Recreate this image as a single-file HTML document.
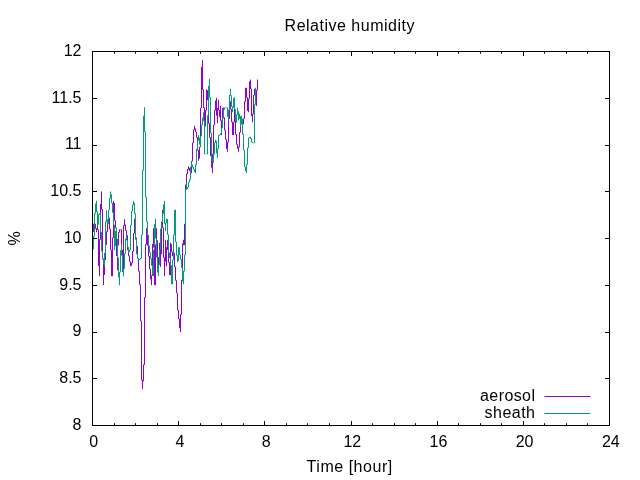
<!DOCTYPE html>
<html><head><meta charset="utf-8"><style>
html,body{margin:0;padding:0;background:#fff;width:640px;height:480px;overflow:hidden}
svg{display:block;will-change:transform}
text{font-family:"Liberation Sans",sans-serif;font-size:16px;fill:#000}
</style></head><body>
<svg width="640" height="480" viewBox="0 0 640 480">
<rect width="640" height="480" fill="#fff"/>
<path fill="none" stroke="#9400d3" stroke-width="1" d="M92.5 231.4V240.2M93.5 223.6V231.9M94.5 222.1V224.2M95.5 223.7V228.8M96.5 228.2V232.2M97.5 223.4V230.0M98.5 229.5V265.9M99.5 239.3V276.2M100.5 204.1V239.8M101.5 191.5V209.6M102.5 209.1V259.0M103.5 258.5V285.2M104.5 259.8V275.0M105.5 244.4V260.2M106.5 231.3V244.9M107.5 221.8V231.8M108.5 218.4V222.2M109.5 217.8V229.4M110.5 228.9V250.2M111.5 249.8V276.2M112.5 237.4V276.2M113.5 200.8V237.9M114.5 203.0V220.8M115.5 220.3V228.2M116.5 227.8V256.0M117.5 245.0V270.2M118.5 232.1V245.5M119.5 229.3V232.6M120.5 229.3V229.8M121.5 229.3V250.2M122.5 249.8V271.9M123.5 225.4V276.2M124.5 219.2V225.9M125.5 224.7V230.7M126.5 230.2V235.7M127.5 235.2V250.2M128.5 249.8V256.1M129.5 255.6V261.9M130.5 261.4V266.2M131.5 262.7V265.6M132.5 251.0V263.2M133.5 233.1V251.5M134.5 218.8V233.6M135.5 222.4V238.2M136.5 237.7V246.6M137.5 246.1V258.6M138.5 258.1V271.5M139.5 271.0V284.7M140.5 284.2V321.1M141.5 320.6V380.3M142.5 379.8V388.9M143.5 364.4V381.3M144.5 297.1V364.9M145.5 244.1V297.6M146.5 228.2V244.6M147.5 235.2V245.8M148.5 245.3V256.5M149.5 256.0V269.2M150.5 268.7V279.3M151.5 275.3V285.2M152.5 243.9V275.8M153.5 228.2V247.6M154.5 247.1V285.2M155.5 244.4V285.2M156.5 228.2V244.9M157.5 240.4V261.2M158.5 256.9V267.2M159.5 242.8V257.4M160.5 242.8V266.8M161.5 222.3V254.2M162.5 209.8V228.0M163.5 227.5V257.9M164.5 257.4V276.2M165.5 239.8V261.8M166.5 247.2V266.2M167.5 239.8V249.8M168.5 249.3V262.7M169.5 262.2V275.2M170.5 242.8V275.2M171.5 244.2V251.9M172.5 251.4V256.2M173.5 247.2V253.3M174.5 252.8V267.0M175.5 266.5V280.7M176.5 280.2V293.2M177.5 292.8V310.3M178.5 309.8V319.2M179.5 318.7V328.2M180.5 314.1V332.2M181.5 279.8V314.6M182.5 243.4V280.2M183.5 239.8V245.2M184.5 223.8V245.2M185.5 184.5V224.2M186.5 173.5V185.0M187.5 169.0V174.0M188.5 166.4V169.5M189.5 167.8V171.0M190.5 170.5V172.7M191.5 160.9V173.2M192.5 142.6V161.4M193.5 129.5V143.1M194.5 125.8V130.0M195.5 128.5V132.2M196.5 131.8V137.6M197.5 137.1V150.5M198.5 150.0V160.7M199.5 146.7V158.5M200.5 107.8V147.2M201.5 66.9V108.2M202.5 60.1V89.9M203.5 89.4V107.9M204.5 107.4V129.2M205.5 110.1V126.5M206.5 89.3V110.6M207.5 90.3V100.2M208.5 99.8V123.8M209.5 123.3V137.8M210.5 137.2V156.2M211.5 155.8V167.6M212.5 153.8V173.2M213.5 124.8V154.2M214.5 110.1V125.2M215.5 100.6V110.6M216.5 97.8V115.7M217.5 108.1V123.2M218.5 99.8V110.4M219.5 109.9V117.2M220.5 105.8V120.8M221.5 120.2V135.2M222.5 107.9V122.8M223.5 107.5V118.0M224.5 117.5V130.5M225.5 130.0V139.6M226.5 139.1V148.9M227.5 141.8V151.8M228.5 118.5V142.3M229.5 103.8V119.0M230.5 101.3V109.3M231.5 108.8V122.2M232.5 121.7V135.1M233.5 121.8V135.1M234.5 107.5V122.2M235.5 115.9V134.6M236.5 134.1V144.7M237.5 144.2V148.6M238.5 146.7V151.8M239.5 132.1V147.2M240.5 121.7V132.6M241.5 120.0V122.2M242.5 120.8V124.7M243.5 118.4V124.2M244.5 101.3V118.9M245.5 87.8V101.8M246.5 87.8V97.7M247.5 97.2V110.9M248.5 98.6V112.2M249.5 81.3V99.1M250.5 79.5V89.2M251.5 88.7V116.1M252.5 113.7V122.2M253.5 95.0V114.2M254.5 88.8V95.5M255.5 94.6V102.9M256.5 89.9V106.0M257.5 79.5V90.4"/>
<path fill="none" stroke="#009e73" stroke-width="1" d="M92.5 248.8V250.2M93.5 235.9V249.2M94.5 213.1V236.4M95.5 203.5V213.6M96.5 200.8V212.0M97.5 211.5V226.2M98.5 214.3V224.7M99.5 213.2V214.8M100.5 213.2V232.2M101.5 231.8V251.4M102.5 250.9V259.6M103.5 259.1V264.2M104.5 252.8V266.2M105.5 221.4V253.2M106.5 210.3V221.9M107.5 219.2V224.2M108.5 209.8V224.2M109.5 198.1V210.2M110.5 191.5V198.6M111.5 194.3V203.2M112.5 202.7V212.8M113.5 212.3V225.2M114.5 224.8V250.2M115.5 230.9V246.0M116.5 227.8V239.2M117.5 238.8V258.0M118.5 257.5V277.5M119.5 271.8V285.2M120.5 250.2V272.3M121.5 244.8V255.6M122.5 255.1V269.4M123.5 268.3V276.2M124.5 253.4V268.8M125.5 238.5V253.9M126.5 234.8V240.5M127.5 240.0V247.5M128.5 247.0V252.8M129.5 249.8V252.2M130.5 224.8V250.2M131.5 210.9V225.3M132.5 204.8V211.4M133.5 200.8V205.3M134.5 202.9V213.8M135.5 213.2V239.7M136.5 239.2V254.3M137.5 253.8V258.6M138.5 258.1V260.2M139.5 258.9V260.2M140.5 258.0V259.4M141.5 234.8V258.5M142.5 170.1V235.2M143.5 115.7V170.6M144.5 107.3V131.9M145.5 131.4V197.4M146.5 196.9V221.9M147.5 221.4V235.2M148.5 234.8V246.1M149.5 245.6V252.9M150.5 252.4V258.8M151.5 258.3V265.6M152.5 265.1V274.1M153.5 249.8V276.2M154.5 223.9V250.2M155.5 218.8V238.6M156.5 238.1V257.3M157.5 256.8V272.5M158.5 264.6V276.2M159.5 249.8V265.1M160.5 228.6V250.2M161.5 221.6V229.1M162.5 213.4V222.1M163.5 204.4V213.9M164.5 200.8V223.8M165.5 222.8V231.2M166.5 218.8V223.2M167.5 219.0V234.9M168.5 234.4V252.9M169.5 252.4V258.1M170.5 257.6V265.9M171.5 265.4V284.2M172.5 259.7V284.2M173.5 234.7V260.2M174.5 209.8V235.2M175.5 209.8V242.2M176.5 241.8V255.7M177.5 255.2V262.2M178.5 247.2V260.9M179.5 247.2V255.2M180.5 254.8V259.6M181.5 259.1V267.8M182.5 267.3V281.5M183.5 270.9V284.2M184.5 254.8V271.4M185.5 189.3V255.2M186.5 182.8V189.8M187.5 186.9V189.2M188.5 181.8V187.4M189.5 179.2V182.3M190.5 166.6V179.7M191.5 161.8V167.1M192.5 164.5V167.5M193.5 167.0V169.7M194.5 169.2V172.1M195.5 164.5V173.2M196.5 148.9V165.0M197.5 140.3V149.4M198.5 135.2V140.8M199.5 137.7V144.6M200.5 135.9V146.2M201.5 124.6V136.4M202.5 117.7V125.1M203.5 112.2V121.0M204.5 120.5V154.2M205.5 153.8V154.2M206.5 153.8V154.2M207.5 115.2V154.2M208.5 85.8V115.7M209.5 78.8V97.9M210.5 97.4V133.2M211.5 132.8V159.2M212.5 158.7V162.2M213.5 153.8V162.8M214.5 142.6V154.3M215.5 139.8V143.1M216.5 141.0V153.4M217.5 148.4V158.2M218.5 135.2V148.9M219.5 134.6V135.7M220.5 133.3V135.1M221.5 127.8V133.8M222.5 118.0V128.2M223.5 109.1V118.5M224.5 107.5V109.6M225.5 107.5V108.0M226.5 107.5V108.0M227.5 107.5V116.8M228.5 109.7V120.5M229.5 94.8V110.2M230.5 88.8V95.8M231.5 95.3V106.8M232.5 106.3V112.2M233.5 98.1V107.7M234.5 97.2V109.6M235.5 109.1V120.6M236.5 114.4V122.7M237.5 107.5V114.9M238.5 111.3V120.5M239.5 113.8V118.8M240.5 116.2V126.8M241.5 115.8V124.7M242.5 118.8V134.6M243.5 134.1V150.2M244.5 149.8V167.2M245.5 166.8V171.0M246.5 164.1V173.2M247.5 147.4V164.6M248.5 137.7V147.9M249.5 136.8V138.2M250.5 136.8V138.8M251.5 138.3V142.5M252.5 142.0V143.2M253.5 142.8V143.2M254.5 104.3V143.2M255.5 87.8V104.8M256.5 87.8V88.2M257.5 87.8V88.2"/>
<path d="M92.50 425.5v-4.5M92.50 51.5v4.5M114.50 425.5v-2.25M114.50 51.5v2.25M135.50 425.5v-2.25M135.50 51.5v2.25M157.50 425.5v-2.25M157.50 51.5v2.25M178.50 425.5v-4.5M178.50 51.5v4.5M200.50 425.5v-2.25M200.50 51.5v2.25M221.50 425.5v-2.25M221.50 51.5v2.25M243.50 425.5v-2.25M243.50 51.5v2.25M264.50 425.5v-4.5M264.50 51.5v4.5M286.50 425.5v-2.25M286.50 51.5v2.25M307.50 425.5v-2.25M307.50 51.5v2.25M329.50 425.5v-2.25M329.50 51.5v2.25M351.50 425.5v-4.5M351.50 51.5v4.5M372.50 425.5v-2.25M372.50 51.5v2.25M394.50 425.5v-2.25M394.50 51.5v2.25M415.50 425.5v-2.25M415.50 51.5v2.25M437.50 425.5v-4.5M437.50 51.5v4.5M458.50 425.5v-2.25M458.50 51.5v2.25M480.50 425.5v-2.25M480.50 51.5v2.25M501.50 425.5v-2.25M501.50 51.5v2.25M523.50 425.5v-4.5M523.50 51.5v4.5M544.50 425.5v-2.25M544.50 51.5v2.25M566.50 425.5v-2.25M566.50 51.5v2.25M587.50 425.5v-2.25M587.50 51.5v2.25M609.50 425.5v-4.5M609.50 51.5v4.5M92.5 425.50h4.5M609.5 425.50h-4.5M92.5 378.50h4.5M609.5 378.50h-4.5M92.5 332.50h4.5M609.5 332.50h-4.5M92.5 285.50h4.5M609.5 285.50h-4.5M92.5 238.50h4.5M609.5 238.50h-4.5M92.5 191.50h4.5M609.5 191.50h-4.5M92.5 145.50h4.5M609.5 145.50h-4.5M92.5 98.50h4.5M609.5 98.50h-4.5M92.5 51.50h4.5M609.5 51.50h-4.5" stroke="#000" stroke-width="1" fill="none"/>
<rect x="92.5" y="51.5" width="517.0" height="374.0" fill="none" stroke="#000" stroke-width="1"/>
<text x="81.5" y="429.80" text-anchor="end">8</text><text x="81.5" y="383.05" text-anchor="end">8.5</text><text x="81.5" y="336.30" text-anchor="end">9</text><text x="81.5" y="289.55" text-anchor="end">9.5</text><text x="81.5" y="242.80" text-anchor="end">10</text><text x="81.5" y="196.05" text-anchor="end">10.5</text><text x="81.5" y="149.30" text-anchor="end">11</text><text x="81.5" y="102.55" text-anchor="end">11.5</text><text x="81.5" y="55.80" text-anchor="end">12</text><text x="93.80" y="446.8" text-anchor="middle">0</text><text x="179.97" y="446.8" text-anchor="middle">4</text><text x="266.13" y="446.8" text-anchor="middle">8</text><text x="352.30" y="446.8" text-anchor="middle">12</text><text x="438.47" y="446.8" text-anchor="middle">16</text><text x="524.63" y="446.8" text-anchor="middle">20</text><text x="610.80" y="446.8" text-anchor="middle">24</text>
<text x="349.5" y="30.9" text-anchor="middle" textLength="129.8" lengthAdjust="spacing">Relative humidity</text>
<text x="349.4" y="472" text-anchor="middle" textLength="85.6" lengthAdjust="spacing">Time [hour]</text>
<text transform="translate(19.5,238.5) rotate(-90)" text-anchor="middle">%</text>
<text x="535" y="401" text-anchor="end" textLength="55" lengthAdjust="spacing">aerosol</text>
<text x="535" y="418" text-anchor="end" textLength="50.5" lengthAdjust="spacing">sheath</text>
<path d="M544.5 396.5H590.5" stroke="#9400d3" stroke-width="1"/>
<path d="M544.5 413.5H590.5" stroke="#009e73" stroke-width="1"/>
</svg>
</body></html>
